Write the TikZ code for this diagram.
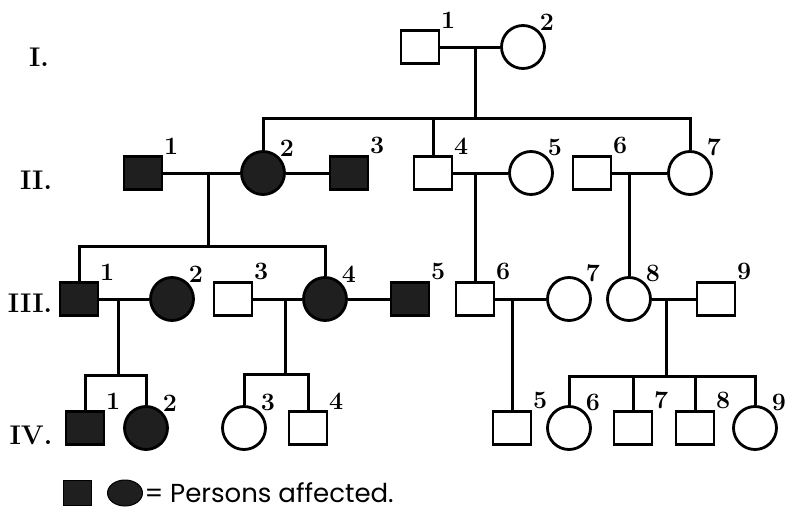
\documentclass[tikz,border=0pt]{standalone}
\usepackage{fontspec}
\newfontfamily\keyfont{Poppins}
\usetikzlibrary{shapes.geometric}
\begin{document}
\begin{tikzpicture}[x=1pt,y=-1pt,line width=3pt,
    male/.style={rectangle,draw,line width=2.8pt,minimum width=38pt,minimum height=33pt},
    female/.style={circle,draw,line width=2.8pt,minimum size=43pt},
    affected/.style={fill=black!88},
    num/.style={font=\bfseries\fontsize{25}{25}\selectfont,inner sep=0pt,label distance=-1pt},
    gen/.style={font=\bfseries\fontsize{27}{27}\selectfont}]
\useasboundingbox (0,0) rectangle (788,514);
% generations
\node[gen] (gI) at (39,57) {I.};
\node[gen] (gII) at (36,180) {II.};
\node[gen] (gIII) at (30,303) {III.};
\node[gen] (gIV) at (31,435) {IV.};
\begin{scope}[every label/.style={num}]
    % I
    \node[male,label=north east:1] (I1) at (420,47) {};
    \node[female,label=north east:2] (I2) at (523,47) {};
    % II
    \node[male,affected,label=north east:1] (II1) at (143,173) {};
    \node[female,affected,label=north east:2] (II2) at (263,173) {};
    \node[male,affected,label=north east:3] (II3) at (349,173) {};
    \node[male,label=north east:4] (II4) at (433,173) {};
    \node[female,label=north east:5] (II5) at (531,173) {};
    \node[male,label=north east:6] (II6) at (592,173) {};
    \node[female,label=north east:7] (II7) at (690,173) {};
    % III
    \node[male,affected,label=north east:1] (III1) at (79,299) {};
    \node[female,affected,label=north east:2] (III2) at (172,299) {};
    \node[male,label=north east:3] (III3) at (233,299) {};
    \node[female,affected,label=north east:4] (III4) at (325,299) {};
    \node[male,affected,label=north east:5] (III5) at (410,299) {};
    \node[male,label=north east:6] (III6) at (475,299) {};
    \node[female,label=north east:7] (III7) at (569,299) {};
    \node[female,label=north east:8] (III8) at (629,299) {};
    \node[male,label=north east:9] (III9) at (716,299) {};
    % IV
    \node[male,affected,label=north east:1] (IV1) at (85,428) {};
    \node[female,affected,label=north east:2] (IV2) at (146,428) {};
    \node[female,label=north east:3] (IV3) at (244,428) {};
    \node[male,label=north east:4] (IV4) at (308,428) {};
    \node[male,label=north east:5] (IV5) at (512,428) {};
    \node[female,label=north east:6] (IV6) at (569,428) {};
    \node[male,label=north east:7] (IV7) at (633,428) {};
    \node[male,label=north east:8] (IV8) at (695,428) {};
    \node[female,label=north east:9] (IV9) at (755,428) {};
\end{scope}
% marriages and children
\coordinate (mI) at (475,47);
\coordinate (sI) at (475,118);
\draw (I1) -- (I2) (mI) -- (sI);
\draw (II2) |- (sI) -| (II7) (II4) -- (II4 |- sI);
\coordinate (mII) at (208,173);
\coordinate (sII) at (208,246);
\draw (II1) -- (II2) -- (II3) (mII) -- (sII);
\draw (III1) |- (sII) -| (III4);
\coordinate (mIIb) at (475,173);
\draw (II4) -- (II5) (mIIb) -- (III6);
\coordinate (mIIc) at (629,173);
\draw (II6) -- (II7) (mIIc) -- (III8);
\coordinate (mIII) at (118,299);
\coordinate (sIII) at (118,375);
\draw (III1) -- (III2) (mIII) -- (sIII);
\draw (IV1) |- (sIII) -| (IV2);
\coordinate (mIIIb) at (285,299);
\coordinate (sIIIb) at (285,374);
\draw (III3) -- (III4) -- (III5) (mIIIb) -- (sIIIb);
\draw (IV3) |- (sIIIb) -| (IV4);
\coordinate (mIIIc) at (512,299);
\draw (III6) -- (III7) (mIIIc) -- (IV5);
\coordinate (mIIId) at (666,299);
\coordinate (sIIId) at (666,376);
\draw (III8) -- (III9) (mIIId) -- (sIIId);
\draw (IV6) |- (sIIId) -| (IV9) (IV7) -- (IV7 |- sIIId) (IV8) -- (IV8 |- sIIId);
% key
\node[rectangle,draw,affected,line width=1pt,minimum width=28pt,minimum height=25pt] (keysq) at (77,493) {};
\node[ellipse,draw,affected,line width=1pt,minimum width=35pt,minimum height=26pt] (keyci) at (125,493) {};
\node[anchor=west,inner sep=0pt,font=\keyfont\fontsize{26}{26}\selectfont] (keytxt) at (143,493) {= Persons affected.};
\end{tikzpicture}
\end{document}
